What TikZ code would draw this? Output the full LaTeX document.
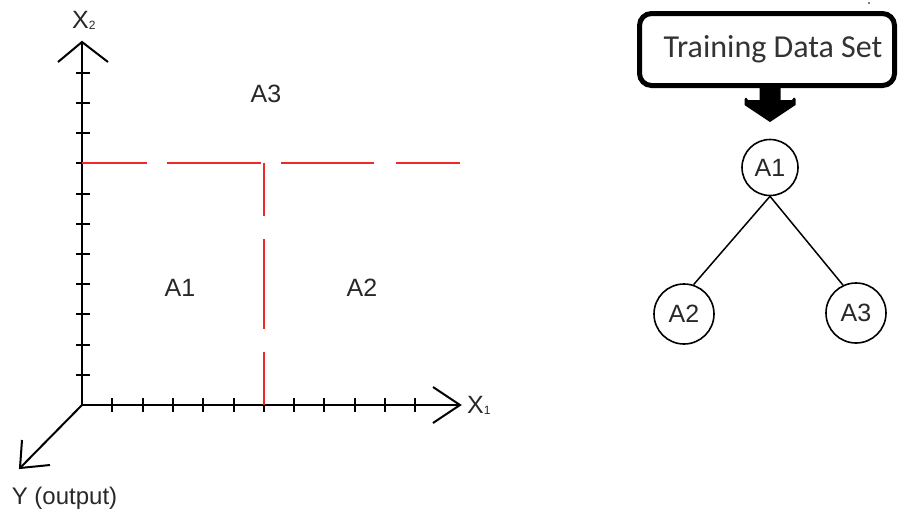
\documentclass[tikz,border=0pt]{standalone}
\usepackage{fontspec}
\usetikzlibrary{calc}
\setmainfont{Liberation Sans}
\newfontfamily\tdsfont{Carlito}
\definecolor{splitred}{RGB}{240,40,40}
\definecolor{labelgray}{RGB}{40,40,40}
\begin{document}
\begin{tikzpicture}[x=1pt,y=-1pt,
  axis/.style={line width=2pt, draw=black},
  tick/.style={line width=2pt, draw=black},
  splitline/.style={line width=2.2pt, draw=splitred},
  lbl/.style={text=labelgray, inner sep=0pt, font=\fontsize{25}{25}\selectfont},
  treenode/.style={circle, draw=black, line width=1.6pt, inner sep=0pt, text=labelgray, font=\fontsize{25}{25}\selectfont},
  tdbox/.style={draw=black, line width=5pt, rounded corners=12pt, minimum width=255pt, minimum height=72pt, inner sep=0pt, text=black!80, font=\tdsfont\fontsize{32}{32}\selectfont},
  branch/.style={line width=1.5pt, draw=black}
]
\useasboundingbox (0,0) rectangle (898,512);

% ---- axes ----
\coordinate (O) at (82,405);
\coordinate (x1end) at (460,405);
\coordinate (x2end) at (82,42);
\coordinate (yend) at (20,468);

\draw[axis] (O) -- (x1end);
\draw[axis] (O) -- (x2end);
\draw[axis] (O) -- (yend);
\draw[axis] (x1end) ++(-27,-18) -- (x1end) -- ++(-27,18);
\draw[axis] (x2end) ++(-24,20) -- (x2end) -- ++(26,20);
\draw[axis] (yend) ++(2,-28) -- (yend) -- ++(30,-3);

% ticks
\foreach \k in {1,...,11} {
  \draw[tick] ($(O)+(30.3*\k,-7)$) -- ($(O)+(30.3*\k,7)$);
  \draw[tick] ($(O)+(-6,-30.2*\k)$) -- ($(O)+(8,-30.2*\k)$);
}

% ---- split lines ----
\draw[splitline] (82,163) -- (147,163);
\draw[splitline] (167,163) -- (261,163);
\draw[splitline] (281,163) -- (374,163);
\draw[splitline] (396,163) -- (460,163);
\draw[splitline] (264,163) -- (264,216);
\draw[splitline] (264,239) -- (264,329);
\draw[splitline] (264,352) -- (264,405);

% ---- labels ----
\node[lbl] (rA3) at (266,94) {A3};
\node[lbl] (rA1) at (180,288) {A1};
\node[lbl] (rA2) at (362,288) {A2};
\node[lbl, font=\fontsize{24}{24}\selectfont, anchor=base] (ylab) at (64.5,504) {Y (output)};
\node[lbl, anchor=base west] (x1lab) at (467,413) {X\raisebox{-1pt}{\fontsize{12}{12}\selectfont 1}};
\node[lbl, anchor=base west] (x2lab) at (72,28) {X\raisebox{-1pt}{\fontsize{12}{12}\selectfont 2}};

% ---- tree ----
\node[tdbox] (tds) at (767,49.5) {\hspace*{12pt}Training Data Set};
\fill[black] (869,3) circle (0.9pt);

\path (tds.south) ++(3,0) coordinate (ar);
\fill[black, shift={(ar)}] (-10.5,0) -- (10.5,0) -- (10.5,12) -- (22,12) -- (24,9.5) -- (25.5,11) -- (25.5,17) -- (21,20) -- (0,34)
  -- (-21,20) -- (-25.5,17) -- (-25.5,11) -- (-24,9.5) -- (-22,12) -- (-10.5,12) -- cycle;

\node[treenode, minimum size=56pt] (A1) at (770,167.5) {A1};
\node[treenode, minimum size=60pt] (A2) at (684,314) {A2};
\node[treenode, minimum size=60pt] (A3) at (856,313) {A3};

\draw[branch] (A1.south) -- (A2.72);
\draw[branch] (A1.south) -- (A3.115);
\end{tikzpicture}
\end{document}
